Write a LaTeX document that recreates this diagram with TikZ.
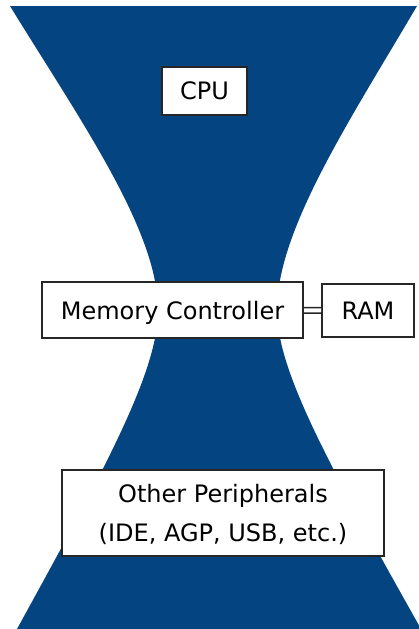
\documentclass[tikz,border=0pt]{standalone}
\usepackage{fontspec}
\setmainfont{DejaVu Sans}
\definecolor{busblue}{RGB}{4,68,128}
\tikzset{
  chip box/.style={draw=black!85, fill=white, line width=2pt, inner sep=0pt,
    align=center, text depth=0pt, font=\fontsize{24}{39}\selectfont},
  bottleneck/.style={fill=busblue},
  bus link/.style={draw=black!85, double, double distance=4pt, line width=1.5pt}
}

\begin{document}
\begin{tikzpicture}[x=1pt,y=-1pt]
\useasboundingbox (0,0) rectangle (419,629);
% the hourglass behind the boxes
\fill[bottleneck] (10,6) .. controls (80,120) and (158,230) .. (158,310)
  .. controls (158,370) and (110,460) .. (17,629)
  -- (421,629) .. controls (326,460) and (277,370) .. (277,310)
  .. controls (277,230) and (350,120) .. (417,6) -- cycle;
% boxes
\node[chip box, minimum width=85pt, minimum height=48pt] (cpu) at (204.5,91) {CPU};
\node[chip box, minimum width=261pt, minimum height=56pt] (memctrl) at (172.5,310) {Memory Controller};
\node[chip box, minimum width=92pt, minimum height=53pt] (ram) at (368,310.5) {RAM};
\node[chip box, minimum width=322pt, minimum height=86pt] (periph) at (223,513)
  {Other Peripherals\\(IDE, AGP, USB, etc.)};
\draw[bus link] (memctrl) -- (ram);
\end{tikzpicture}
\end{document}
